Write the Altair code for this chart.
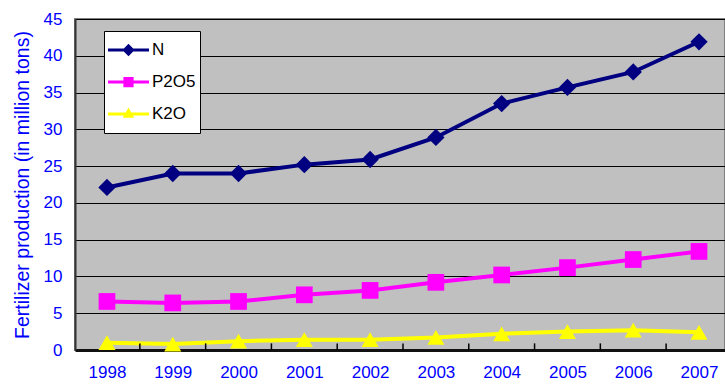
import altair as alt
import pandas as pd

# Fertilizer production by nutrient, million tons
years = [1998, 1999, 2000, 2001, 2002, 2003, 2004, 2005, 2006, 2007]
n_vals = [22.1, 24.0, 24.0, 25.2, 25.9, 28.9, 33.5, 35.7, 37.8, 41.9]
p2o5_vals = [6.6, 6.4, 6.6, 7.5, 8.1, 9.2, 10.2, 11.2, 12.3, 13.4]
k2o_vals = [1.0, 0.8, 1.2, 1.4, 1.4, 1.7, 2.2, 2.5, 2.7, 2.4]

series_names = ["N", "P2O5", "K2O"]
series_colors = ["#000080", "#FF00FF", "#FFFF00"]
series_shapes = ["diamond", "square", "triangle-up"]
marker_sizes = [300, 280, 290]
# legend glyphs: a short line segment with the series marker on top
legend_glyphs = [
    "M-1,-0.075L1,-0.075L1,0.075L-1,0.075Z M0,-0.3L0.3,0L0,0.3L-0.3,0Z",
    "M-1,-0.075L1,-0.075L1,0.075L-1,0.075Z M-0.25,-0.25L0.25,-0.25L0.25,0.25L-0.25,0.25Z",
    "M-1,-0.075L1,-0.075L1,0.075L-1,0.075Z M0,-0.32L0.28,0.18L-0.28,0.18Z",
]
tick_bounds = [1998.5, 1999.5, 2000.5, 2001.5, 2002.5, 2003.5, 2004.5, 2005.5, 2006.5]
tick_len = 0.9  # separator tick height, in value units

rows = []
for name, vals in zip(series_names, [n_vals, p2o5_vals, k2o_vals]):
    for yr, v in zip(years, vals):
        rows.append({"year": yr, "series": name, "value": v})
df = pd.DataFrame(rows)

FONT = "Arial, 'Liberation Sans', sans-serif"
BLUE = "#0000FF"
W, H = 650, 331

x_scale = alt.Scale(domain=[1997.514, 2007.395], nice=False, zero=False)
y_scale = alt.Scale(domain=[0, 45], nice=False)
color_scale = alt.Scale(domain=series_names, range=series_colors)

x_bottom_axis = alt.Axis(values=years, format="d", tickSize=0, labelPadding=14,
                         labelFontSize=17, labelColor=BLUE, labelFont=FONT,
                         grid=False, domainColor="#111111", domainWidth=3)
y_axis = alt.Axis(values=list(range(0, 46, 5)), tickSize=0, labelPadding=13,
                  labelFontSize=17, labelColor=BLUE, labelFont=FONT,
                  titleFontSize=19.5, titleColor=BLUE, titleFont=FONT,
                  titleFontWeight="normal", titlePadding=11,
                  grid=True, gridColor="#000000", gridWidth=1,
                  domainColor="#333333", domainWidth=2)
Y_TITLE = "Fertilizer production (in million tons)"


def x_enc(axis=None, field="year:Q"):
    return alt.X(field, scale=x_scale, title=None, axis=axis)


def y_enc(field="value:Q"):
    return alt.Y(field, scale=y_scale, title=Y_TITLE, axis=y_axis)


base = alt.Chart(df)

layers = []
for name, color, shape, size in zip(series_names, series_colors, series_shapes, marker_sizes):
    sub = base.transform_filter(alt.datum.series == name)
    layers.append(
        sub.mark_line(color=color, strokeWidth=4).encode(x=x_enc(x_bottom_axis), y=y_enc())
    )
    layers.append(
        sub.mark_point(shape=shape, filled=True, opacity=1, size=size,
                       color=color, strokeWidth=0).encode(x=x_enc(x_bottom_axis), y=y_enc())
    )

# small category separator ticks rising from the bottom axis
ticks = alt.Chart(
    pd.DataFrame({"b": tick_bounds, "lo": [0.0] * len(tick_bounds),
                  "hi": [tick_len] * len(tick_bounds)})
).mark_rule(color="#000000", strokeWidth=1.5).encode(
    x=x_enc(x_bottom_axis, "b:Q"), y=y_enc("lo:Q"), y2="hi:Q"
)

# zero-size layer that only carries the legend
legend_layer = base.mark_point(filled=True, size=0, opacity=1, strokeWidth=0).encode(
    x=x_enc(x_bottom_axis),
    y=y_enc(),
    color=alt.Color(
        "series:N", scale=color_scale,
        legend=alt.Legend(
            title=None, orient="none", legendX=29, legendY=12,
            symbolSize=1681, symbolOpacity=1, symbolStrokeWidth=0,
            labelFontSize=17, labelFont=FONT, labelColor="#000000",
            labelOffset=3, clipHeight=30, rowPadding=2, padding=4,
            fillColor="#FFFFFF", strokeColor="#000000",
        ),
    ),
    shape=alt.Shape("series:N", scale=alt.Scale(domain=series_names, range=legend_glyphs)),
)

chart = (
    alt.layer(*layers, ticks, legend_layer)
    .properties(
        width=W, height=H,
        autosize=alt.AutoSizeParams(type="none"),
        padding={"left": 75, "top": 19, "right": 0, "bottom": 38},
        background="#FFFFFF",
    )
    .configure_view(fill="#C0C0C0", stroke="#808080", strokeWidth=2)
)

chart.save("out.html", embed_options={"renderer": "svg", "actions": False})
